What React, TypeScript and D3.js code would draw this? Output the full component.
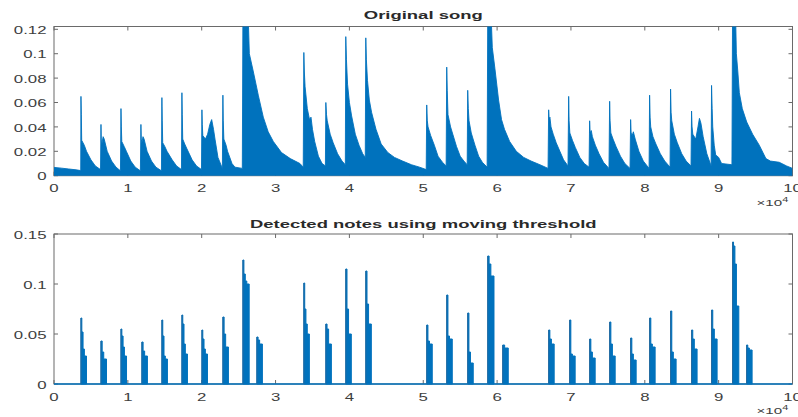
import React from 'react';
import * as d3 from 'd3';

// ---------- data (x in units of 1e4 samples) ----------
const xTicks = [0, 1, 2, 3, 4, 5, 6, 7, 8, 9, 10];
const xTickLabels = ['0', '1', '2', '3', '4', '5', '6', '7', '8', '9', '10'];
const xExponent = '4';
const topYTicks = [0, 0.02, 0.04, 0.06, 0.08, 0.1, 0.12];
const topYLabels = ['0', '0.02', '0.04', '0.06', '0.08', '0.1', '0.12'];
const botYTicks = [0, 0.05, 0.1, 0.15];
const botYLabels = ['0', '0.05', '0.1', '0.15'];
const titleTop = 'Original song';
const titleBottom = 'Detected notes using moving threshold';

// envelope of |signal|: [time (1e4 samples), amplitude]
const songEnvelope: [number, number][] = [
  [0, 0.0068], [0.1, 0.0062], [0.2, 0.0055], [0.3, 0.0048], [0.362, 0.0042],
  [0.365, 0.065], [0.37, 0.05], [0.375, 0.029], [0.41, 0.025], [0.44, 0.02], [0.5, 0.013], [0.56, 0.008], [0.63, 0.005],
  [0.636, 0.042], [0.64, 0.03], [0.645, 0.025], [0.665, 0.032], [0.68, 0.03], [0.72, 0.02], [0.78, 0.012], [0.84, 0.007], [0.9, 0.004],
  [0.907, 0.055], [0.912, 0.04], [0.918, 0.028], [0.95, 0.024], [0.98, 0.02], [1.04, 0.012], [1.1, 0.007], [1.17, 0.004],
  [1.177, 0.042], [1.182, 0.03], [1.19, 0.027], [1.205, 0.032], [1.22, 0.03], [1.26, 0.02], [1.32, 0.012], [1.38, 0.007], [1.455, 0.004],
  [1.461, 0.064], [1.466, 0.045], [1.472, 0.027], [1.5, 0.024], [1.53, 0.02], [1.6, 0.013], [1.66, 0.008], [1.726, 0.005],
  [1.732, 0.068], [1.737, 0.05], [1.743, 0.03], [1.77, 0.026], [1.8, 0.022], [1.87, 0.013], [1.93, 0.008], [1.997, 0.005],
  [2.003, 0.054], [2.008, 0.042], [2.015, 0.033], [2.05, 0.03], [2.08, 0.034], [2.11, 0.042], [2.135, 0.046], [2.16, 0.038], [2.18, 0.03], [2.22, 0.015], [2.28, 0.006],
  [2.287, 0.066], [2.292, 0.045], [2.3, 0.03], [2.33, 0.025], [2.35, 0.02], [2.41, 0.01], [2.45, 0.007], [2.55, 0.006],
  [2.558, 0.13], [2.63, 0.13], [2.645, 0.1], [2.7, 0.085], [2.766, 0.066], [2.834, 0.048], [2.9, 0.036], [2.97, 0.028], [3.08, 0.019], [3.2, 0.014], [3.33, 0.01], [3.375, 0.007],
  [3.383, 0.101], [3.39, 0.085], [3.4, 0.073], [3.43, 0.055], [3.46, 0.046], [3.48, 0.048], [3.5, 0.038], [3.53, 0.028], [3.58, 0.016], [3.63, 0.01], [3.675, 0.008],
  [3.681, 0.06], [3.69, 0.05], [3.7, 0.045], [3.74, 0.034], [3.78, 0.027], [3.84, 0.018], [3.9, 0.012], [3.945, 0.009],
  [3.951, 0.114], [3.96, 0.095], [3.975, 0.075], [4.0, 0.06], [4.03, 0.049], [4.08, 0.034], [4.13, 0.025], [4.18, 0.018], [4.215, 0.015],
  [4.222, 0.113], [4.23, 0.095], [4.245, 0.078], [4.27, 0.062], [4.3, 0.052], [4.36, 0.038], [4.43, 0.026], [4.52, 0.019], [4.61, 0.015], [4.72, 0.012], [4.84, 0.009], [4.95, 0.007], [5.04, 0.005],
  [5.047, 0.058], [5.055, 0.045], [5.065, 0.04], [5.1, 0.033], [5.15, 0.025], [5.2, 0.016], [5.26, 0.011], [5.31, 0.008],
  [5.318, 0.089], [5.325, 0.07], [5.335, 0.05], [5.37, 0.04], [5.4, 0.034], [5.45, 0.024], [5.5, 0.016], [5.55, 0.012], [5.595, 0.009],
  [5.602, 0.07], [5.61, 0.055], [5.62, 0.045], [5.65, 0.035], [5.7, 0.025], [5.75, 0.016], [5.8, 0.011], [5.865, 0.007],
  [5.873, 0.13], [5.92, 0.13], [5.935, 0.105], [5.97, 0.088], [6.02, 0.062], [6.06, 0.046], [6.1, 0.038], [6.17, 0.028], [6.26, 0.02], [6.36, 0.015], [6.46, 0.012], [6.58, 0.009], [6.69, 0.006],
  [6.698, 0.054], [6.705, 0.046], [6.715, 0.048], [6.73, 0.04], [6.76, 0.034], [6.8, 0.027], [6.85, 0.02], [6.9, 0.013], [6.96, 0.008],
  [6.969, 0.065], [6.975, 0.045], [6.985, 0.035], [7.02, 0.029], [7.06, 0.023], [7.12, 0.015], [7.18, 0.01], [7.245, 0.007],
  [7.253, 0.045], [7.26, 0.035], [7.275, 0.037], [7.29, 0.032], [7.33, 0.025], [7.38, 0.018], [7.44, 0.011], [7.515, 0.006],
  [7.524, 0.061], [7.53, 0.045], [7.54, 0.035], [7.57, 0.03], [7.61, 0.024], [7.67, 0.016], [7.73, 0.01], [7.8, 0.006],
  [7.808, 0.046], [7.815, 0.035], [7.83, 0.033], [7.845, 0.036], [7.87, 0.03], [7.92, 0.02], [7.98, 0.012], [8.058, 0.006],
  [8.065, 0.066], [8.072, 0.048], [8.08, 0.04], [8.11, 0.032], [8.15, 0.026], [8.21, 0.018], [8.27, 0.012], [8.342, 0.007],
  [8.349, 0.071], [8.356, 0.052], [8.365, 0.045], [8.4, 0.034], [8.44, 0.027], [8.5, 0.018], [8.56, 0.012], [8.626, 0.008],
  [8.633, 0.053], [8.64, 0.04], [8.65, 0.034], [8.69, 0.03], [8.72, 0.04], [8.74, 0.047], [8.76, 0.043], [8.79, 0.032], [8.84, 0.018], [8.898, 0.008],
  [8.904, 0.074], [8.912, 0.055], [8.92, 0.04], [8.94, 0.025], [8.96, 0.017], [9.0, 0.015], [9.04, 0.01], [9.18, 0.009],
  [9.188, 0.13], [9.23, 0.13], [9.24, 0.1], [9.26, 0.085], [9.28, 0.068], [9.32, 0.055], [9.38, 0.044], [9.46, 0.034], [9.55, 0.025], [9.64, 0.014], [9.7, 0.012], [9.82, 0.011], [9.92, 0.008], [10, 0.006],
];

// detected notes (lower panel): onset (1e4 samples), duration, step amplitudes
const detStart = [0.365, 0.636, 0.907, 1.19, 1.461, 1.732, 2.003, 2.287, 2.558, 2.747, 3.383, 3.681, 3.951, 4.222, 5.047, 5.318, 5.602, 5.873, 6.076, 6.698, 6.982, 7.253, 7.524, 7.808, 8.065, 8.349, 8.633, 8.904, 9.188, 9.378];
const detDur = [0.075, 0.075, 0.075, 0.075, 0.075, 0.075, 0.075, 0.075, 0.085, 0.075, 0.075, 0.075, 0.075, 0.075, 0.075, 0.075, 0.075, 0.085, 0.075, 0.075, 0.075, 0.075, 0.075, 0.075, 0.075, 0.075, 0.075, 0.075, 0.085, 0.075];
const detLevels = [
  [0.066, 0.052, 0.035, 0.028],
  [0.043, 0.032, 0.025],
  [0.055, 0.048, 0.037, 0.028],
  [0.042, 0.033, 0.028],
  [0.064, 0.048, 0.028, 0.025],
  [0.069, 0.06, 0.04, 0.03],
  [0.054, 0.045, 0.035, 0.03],
  [0.067, 0.05, 0.037],
  [0.124, 0.11, 0.103, 0.1],
  [0.047, 0.044, 0.04],
  [0.101, 0.075, 0.06, 0.05],
  [0.06, 0.055, 0.04],
  [0.115, 0.075, 0.05],
  [0.113, 0.08, 0.06],
  [0.059, 0.043, 0.04],
  [0.089, 0.048, 0.045],
  [0.071, 0.032, 0.021],
  [0.128, 0.12, 0.108],
  [0.039, 0.036],
  [0.054, 0.045, 0.04],
  [0.064, 0.03, 0.028],
  [0.045, 0.032, 0.026],
  [0.062, 0.04, 0.028],
  [0.046, 0.03, 0.024],
  [0.066, 0.04, 0.037],
  [0.073, 0.032, 0.025],
  [0.054, 0.045, 0.035],
  [0.074, 0.055, 0.045],
  [0.142, 0.138, 0.12, 0.078],
  [0.039, 0.036, 0.034],
];

// ---------- style ----------
const BLUE = '#0072BD';
const EDGE = '#2a6a9c';
const AXIS = '#6a6a6a';
const TICKTXT = '#3e3e3e';
const TITLETXT = '#2a2a2a';
const FONT = '"Liberation Sans", Arial, Helvetica, sans-serif';
const SX = 1.68; // the reference is stretched horizontally
const TICKLEN = 4;

const W = 798;
const H = 417;

function STxt(props: { x: number; y: number; anchor?: string; size: number; weight?: string; fill: string; children: any }) {
  const { x, y, anchor = 'middle', size, weight = 'normal', fill, children } = props;
  return (
    <text
      transform={`translate(${x},${y}) scale(${SX},1)`}
      textAnchor={anchor as any}
      fontSize={size}
      fontWeight={weight}
      fill={fill}
      fontFamily={FONT}
    >
      {children}
    </text>
  );
}

function Frame(props: {
  x: d3.ScaleLinear<number, number>;
  y: d3.ScaleLinear<number, number>;
  yTicks: number[];
  yLabels: string[];
  title: string;
  titleY: number;
  id: string;
  children: any;
}) {
  const { x, y, yTicks, yLabels, title, titleY, id, children } = props;
  const [x0, x1] = x.range();
  const [yb, yt] = y.range();
  return (
    <g>
      <defs>
        <clipPath id={id}>
          <rect x={x0} y={yt} width={x1 - x0} height={yb - yt + 1} />
        </clipPath>
      </defs>
      <rect x={x0} y={yt} width={x1 - x0} height={yb - yt} fill="none" stroke={AXIS} strokeWidth={1} />
      {xTicks.map((t) => (
        <g key={'xt' + t}>
          <line x1={x(t)} x2={x(t)} y1={yb} y2={yb - TICKLEN} stroke={AXIS} />
          <line x1={x(t)} x2={x(t)} y1={yt} y2={yt + TICKLEN} stroke={AXIS} />
        </g>
      ))}
      {yTicks.map((t) => (
        <g key={'yt' + t}>
          <line x1={x0} x2={x0 + TICKLEN} y1={y(t)} y2={y(t)} stroke={AXIS} />
          <line x1={x1} x2={x1 - TICKLEN} y1={y(t)} y2={y(t)} stroke={AXIS} />
        </g>
      ))}
      <g clipPath={`url(#${id})`}>{children}</g>
      {xTicks.map((t, i) => (
        <STxt key={'xl' + t} x={x(t)} y={yb + 16.5} size={10} fill={TICKTXT}>
          {xTickLabels[i]}
        </STxt>
      ))}
      {yTicks.map((t, i) => (
        <STxt key={'yl' + t} x={x0 - 7.5} y={y(t) + 4.6} anchor="end" size={10} fill={TICKTXT}>
          {yLabels[i]}
        </STxt>
      ))}
      <g transform={`translate(${x1 - 36},${yb + 30}) scale(${SX},1)`}>
        <text fontSize={9} fill={TICKTXT} fontFamily={FONT}>
          ×10
          <tspan fontSize={6.5} dy={-4}>
            {xExponent}
          </tspan>
        </text>
      </g>
      <STxt x={(x0 + x1) / 2} y={titleY} size={11} weight="bold" fill={TITLETXT}>
        {title}
      </STxt>
    </g>
  );
}

export default function App() {
  const x = d3.scaleLinear().domain([0, 10]).range([54, 792.5]);
  const yTop = d3.scaleLinear().domain([0, 0.1223]).range([175.7, 26.5]);
  const yBot = d3.scaleLinear().domain([0, 0.15]).range([384, 234]);

  const songArea = d3
    .area<[number, number]>()
    .x((d) => x(d[0]))
    .y0(yTop(0))
    .y1((d) => yTop(d[1]))(songEnvelope) as string;
  const songLine = d3
    .line<[number, number]>()
    .x((d) => x(d[0]))
    .y((d) => yTop(d[1]))(songEnvelope) as string;

  const stepFractions: Record<number, number[]> = {
    2: [0, 0.35, 1],
    3: [0, 0.22, 0.5, 1],
    4: [0, 0.16, 0.38, 0.62, 1],
  };
  const noteArea = d3
    .area<[number, number]>()
    .x((d) => x(d[0]))
    .y0(yBot(0))
    .y1((d) => yBot(d[1]))
    .curve(d3.curveStepAfter);
  const notePaths = detStart.map((s, i) => {
    const lv = detLevels[i];
    const fr = stepFractions[lv.length];
    const pts: [number, number][] = lv.map((v, k) => [s + fr[k] * detDur[i], v]);
    pts.push([s + detDur[i], lv[lv.length - 1]]);
    return noteArea(pts) as string;
  });

  return (
    <svg
      width={W}
      height={H}
      viewBox={`0 0 ${W} ${H}`}
      style={{ position: 'absolute', left: 0, top: 0, background: '#fff' }}
    >
      <rect x={0} y={0} width={W} height={H} fill="#fff" />
      <Frame x={x} y={yTop} yTicks={topYTicks} yLabels={topYLabels} title={titleTop} titleY={19.3} id="clipTop">
        <path d={songArea} fill={BLUE} />
        <path d={songLine} fill="none" stroke={BLUE} strokeWidth={0.9} />
      </Frame>
      <Frame x={x} y={yBot} yTicks={botYTicks} yLabels={botYLabels} title={titleBottom} titleY={228} id="clipBot">
        <line x1={x(0)} x2={x(10)} y1={yBot(0)} y2={yBot(0)} stroke={BLUE} strokeWidth={1.5} />
        {notePaths.map((d, i) => (
          <path key={i} d={d} fill={BLUE} stroke={BLUE} strokeWidth={1} strokeLinejoin="round" />
        ))}
        {detStart.map((s, i) => (
          <line
            key={'e' + i}
            x1={x(s)}
            x2={x(s)}
            y1={yBot(0)}
            y2={yBot(detLevels[i][0])}
            stroke={EDGE}
            strokeWidth={0.9}
          />
        ))}
      </Frame>
    </svg>
  );
}
